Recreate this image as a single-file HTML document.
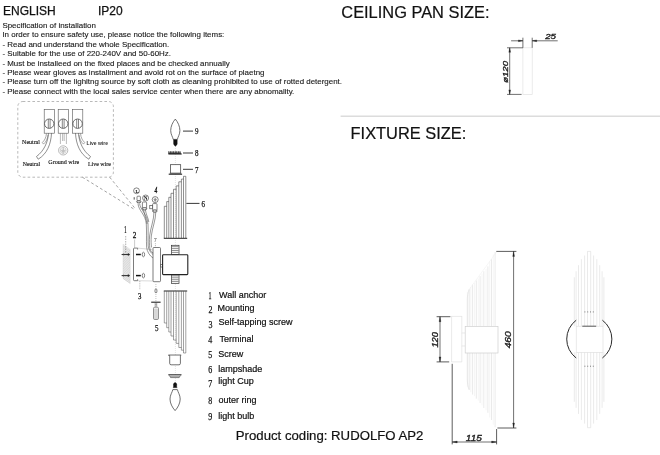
<!DOCTYPE html>
<html><head><meta charset="utf-8">
<style>
html,body{margin:0;padding:0;background:#fff;}
body{will-change:transform;width:660px;height:455px;position:relative;overflow:hidden;font-family:"Liberation Sans",sans-serif;color:#111;}
.t{position:absolute;white-space:nowrap;line-height:1;}
.s{font-size:7.95px;left:2.4px;color:#1a1a1a;-webkit-text-stroke:0.12px #1a1a1a;}
.h{font-size:12px;-webkit-text-stroke:0.25px #111;}
.big{font-size:16.4px;color:#111;-webkit-text-stroke:0.2px #111;}
.l{font-size:9px;color:#111;-webkit-text-stroke:0.2px #111;}
svg{position:absolute;left:0;top:0;}
</style></head><body>
<div class="t h" style="left:3px;top:5px;">ENGLISH</div>
<div class="t h" style="left:98px;top:5px;">IP20</div>
<div class="t s" style="top:21.7px;">Specification of installation</div>
<div class="t s" style="top:30.8px;">In order to ensure safety use, please notice the following items:</div>
<div class="t s" style="top:40.8px;">- Read and understand the whole Specification.</div>
<div class="t s" style="top:50.0px;">- Suitable for the use of 220-240V and 50-60Hz.</div>
<div class="t s" style="top:59.6px;">- Must be installeed on the fixed places and be checked annually</div>
<div class="t s" style="top:68.7px;">- Please wear gloves as installment and avoid rot on the surface of plaetng</div>
<div class="t s" style="top:78.1px;">- Please turn off the lighitng source by soft cloth as cleaning prohibited to use of rotted detergent.</div>
<div class="t s" style="top:87.7px;">- Please connect with the local sales service center when there are any abnomality.</div>
<div class="t big" style="left:341.3px;top:4px;">CEILING PAN SIZE:</div>
<div class="t big" style="left:350.6px;top:124.6px;">FIXTURE SIZE:</div>
<div class="t" style="left:235.8px;top:428.8px;font-size:13.2px;-webkit-text-stroke:0.2px #111;">Product coding: RUDOLFO AP2</div>
<div class="t l" style="left:219.0px;top:290.5px;">Wall anchor</div>
<div class="t l" style="left:217.6px;top:303.7px;">Mounting</div>
<div class="t l" style="left:218.4px;top:318.3px;">Self-tapping screw</div>
<div class="t l" style="left:219.6px;top:334.7px;">Terminal</div>
<div class="t l" style="left:218.3px;top:349.5px;">Screw</div>
<div class="t l" style="left:218.2px;top:365.1px;">lampshade</div>
<div class="t l" style="left:218.2px;top:377.0px;">light Cup</div>
<div class="t l" style="left:218.6px;top:395.5px;">outer ring</div>
<div class="t l" style="left:218.2px;top:411.8px;">light bulb</div>
<svg width="660" height="455" viewBox="0 0 660 455" fill="none">
<g id="wirebox">
<rect x="17.8" y="101.5" width="95.6" height="75.7" stroke="#8a8a8a" stroke-width="0.6" fill="none" rx="5" stroke-dasharray="2.6 2.2"/>
<line x1="109.7" y1="177.2" x2="135.4" y2="208.8" stroke="#8a8a8a" stroke-width="0.8" stroke-dasharray="2.8 2.4"/>
<line x1="82.4" y1="177.2" x2="135.4" y2="210" stroke="#8a8a8a" stroke-width="0.8" stroke-dasharray="2.8 2.4"/>
<rect x="44.2" y="109.3" width="10.2" height="23.9" stroke="#555" stroke-width="0.6" fill="none" rx="0"/>
<circle cx="49.2" cy="123.7" r="4.7" stroke="#333" stroke-width="0.7" fill="#fff"/>
<line x1="48.300000000000004" y1="119.3" x2="48.300000000000004" y2="128.1" stroke="#333" stroke-width="0.6" />
<line x1="50.1" y1="119.3" x2="50.1" y2="128.1" stroke="#333" stroke-width="0.6" />
<rect x="58.2" y="109.3" width="10.2" height="23.9" stroke="#555" stroke-width="0.6" fill="none" rx="0"/>
<circle cx="63.2" cy="123.7" r="4.7" stroke="#333" stroke-width="0.7" fill="#fff"/>
<line x1="62.300000000000004" y1="119.3" x2="62.300000000000004" y2="128.1" stroke="#333" stroke-width="0.6" />
<line x1="64.10000000000001" y1="119.3" x2="64.10000000000001" y2="128.1" stroke="#333" stroke-width="0.6" />
<rect x="72.6" y="109.3" width="10.2" height="23.9" stroke="#555" stroke-width="0.6" fill="none" rx="0"/>
<circle cx="77.6" cy="123.7" r="4.7" stroke="#333" stroke-width="0.7" fill="#fff"/>
<line x1="76.69999999999999" y1="119.3" x2="76.69999999999999" y2="128.1" stroke="#333" stroke-width="0.6" />
<line x1="78.5" y1="119.3" x2="78.5" y2="128.1" stroke="#333" stroke-width="0.6" />
<path d="M60.4 133.2V144 M66.4 133.2V144 M62.6 133.2V141 M64.2 133.2V141" stroke="#777" stroke-width="0.5" fill="none" />
<path d="M48.5 133.2C48 142 44 151 36.5 156.5 M51.5 133.2C51 144 47 154 38.2 159.2 M36.5 156.5L38.2 159.2" stroke="#444" stroke-width="0.6" fill="none" />
<path d="M46.5 133.5C46 138 44.5 140.5 42.3 142.5 M42.3 142.5l1.2 1.6 M43.5 144.1C46 142 47.5 139 48 135" stroke="#555" stroke-width="0.5" fill="none" />
<path d="M78.5 133.2C79 142 83 151 90.5 156.5 M75.5 133.2C76 144 80 154 88.8 159.2 M90.5 156.5L88.8 159.2" stroke="#444" stroke-width="0.6" fill="none" />
<path d="M80.5 133.5C81 138 82.5 140.5 84.7 142.5 M84.7 142.5l-1.2 1.6 M83.5 144.1C81 142 79.5 139 79 135" stroke="#555" stroke-width="0.5" fill="none" />
<circle cx="63.2" cy="150.4" r="4.6" stroke="#888" stroke-width="0.6" fill="none"/>
<circle cx="63.2" cy="150.4" r="3.0" stroke="#aaa" stroke-width="0.5" fill="none"/>
<path d="M63.2 147.5V150.3 M60.8 150.3H65.6 M61.6 151.6H64.8 M62.4 152.9H64" stroke="#777" stroke-width="0.5" fill="none" />
<text x="22.1" y="144.4" font-size="7.0" font-family="Liberation Serif, serif" fill="#111" stroke="#111" stroke-width="0.15" textLength="17.8" lengthAdjust="spacingAndGlyphs">Neutral</text>
<text x="22.7" y="166.3" font-size="7.0" font-family="Liberation Serif, serif" fill="#111" stroke="#111" stroke-width="0.15" textLength="17.4" lengthAdjust="spacingAndGlyphs">Neutral</text>
<text x="48.3" y="164.1" font-size="7.0" font-family="Liberation Serif, serif" fill="#111" stroke="#111" stroke-width="0.15" textLength="30.8" lengthAdjust="spacingAndGlyphs">Ground wire</text>
<text x="88" y="166.3" font-size="7.0" font-family="Liberation Serif, serif" fill="#111" stroke="#111" stroke-width="0.15" textLength="22.8" lengthAdjust="spacingAndGlyphs">Live wire</text>
<text x="86.6" y="144.9" font-size="5.4" font-family="Liberation Sans, sans-serif" fill="#333" stroke="none" font-weight="bold" textLength="21.4" lengthAdjust="spacingAndGlyphs">Live wire</text>
</g>
<g id="exploded">
<line x1="175.4" y1="146" x2="175.4" y2="383" stroke="#bbb" stroke-width="0.5" stroke-dasharray="0.8 1.2"/>
<path d="M175.3 119.1C172.7 122 170.7 126.5 170.7 130.5C170.7 134.5 172.8 137 173.2 139.4H177.4C177.8 137 179.9 134.5 179.9 130.5C179.9 126.5 177.9 122 175.3 119.1Z" stroke="#333" stroke-width="0.7" fill="#fff" />
<path d="M173.6 139.8H177.2V143.8Q177.2 145 175.4 146.2Q173.6 145 173.6 143.8Z" stroke="#111" stroke-width="0.4" fill="#111" />
<line x1="183" y1="131.1" x2="193" y2="131.1" stroke="#222" stroke-width="0.9" />
<text x="194.9" y="134.0" font-size="8.4" font-family="Liberation Serif, serif" fill="#111" stroke="#111" stroke-width="0.25" textLength="3.5" lengthAdjust="spacingAndGlyphs">9</text>
<path d="M168.6 154L168.8 151.3L169.6 154L170.4 151.3L171.2 154L172.0 151.3L172.8 154L173.6 151.3L174.4 154L175.2 151.3L176.0 154L176.8 151.3L177.6 154L178.4 151.3L179.2 154L180.0 151.3L180.8 154L181.4 154Z" stroke="#222" stroke-width="0.5" fill="#444" />
<line x1="168.4" y1="154" x2="181.6" y2="154" stroke="#222" stroke-width="0.8" />
<line x1="183" y1="153" x2="193" y2="153" stroke="#222" stroke-width="0.9" />
<text x="194.9" y="156.3" font-size="8.4" font-family="Liberation Serif, serif" fill="#111" stroke="#111" stroke-width="0.25" textLength="3.5" lengthAdjust="spacingAndGlyphs">8</text>
<rect x="170.5" y="164.7" width="10.2" height="8.5" stroke="#333" stroke-width="0.7" fill="#fff" rx="0"/>
<path d="M168.7 174.2H182.1" stroke="#222" stroke-width="1.1" fill="none" />
<path d="M169.6 173.2H181.4" stroke="#555" stroke-width="0.5" fill="none" />
<line x1="183" y1="169.3" x2="193" y2="169.3" stroke="#222" stroke-width="0.9" />
<text x="194.9" y="172.7" font-size="8.4" font-family="Liberation Serif, serif" fill="#111" stroke="#111" stroke-width="0.25" textLength="3.5" lengthAdjust="spacingAndGlyphs">7</text>
<path d="M164.3 238V206.3M166.7 238V201.6M168.8 238V197.3M171.0 238V193.3M173.5 238V189.3M176.2 238V185.9M178.8 238V181.8M181.4 238V179.1M183.5 238V176.3M185.8 238V176.3M164.3 206.3H166.7M166.7 201.6H168.8M168.8 197.3H171.0M171.0 193.3H173.5M173.5 189.3H176.2M176.2 185.9H178.8M178.8 181.8H181.4M181.4 179.1H183.5M183.5 176.3H185.8" stroke="#444" stroke-width="0.6" fill="none" />
<line x1="163.8" y1="238.3" x2="187.2" y2="238.3" stroke="#222" stroke-width="1.0" />
<line x1="186.4" y1="203.4" x2="199.5" y2="203.4" stroke="#222" stroke-width="0.9" />
<text x="201.6" y="207.2" font-size="8.4" font-family="Liberation Serif, serif" fill="#111" stroke="#111" stroke-width="0.25" textLength="3.5" lengthAdjust="spacingAndGlyphs">6</text>
<rect x="171.4" y="245.3" width="7.6" height="9.099999999999994" stroke="#333" stroke-width="0.7" fill="#fff" rx="0"/>
<line x1="171.8" y1="246.70000000000002" x2="178.6" y2="246.70000000000002" stroke="#444" stroke-width="0.6" />
<line x1="171.8" y1="248.60000000000002" x2="178.6" y2="248.60000000000002" stroke="#444" stroke-width="0.6" />
<line x1="171.8" y1="250.50000000000003" x2="178.6" y2="250.50000000000003" stroke="#444" stroke-width="0.6" />
<line x1="171.8" y1="252.40000000000003" x2="178.6" y2="252.40000000000003" stroke="#444" stroke-width="0.6" />
<rect x="171.4" y="274.5" width="7.6" height="9.100000000000023" stroke="#333" stroke-width="0.7" fill="#fff" rx="0"/>
<line x1="171.8" y1="275.9" x2="178.6" y2="275.9" stroke="#444" stroke-width="0.6" />
<line x1="171.8" y1="277.79999999999995" x2="178.6" y2="277.79999999999995" stroke="#444" stroke-width="0.6" />
<line x1="171.8" y1="279.69999999999993" x2="178.6" y2="279.69999999999993" stroke="#444" stroke-width="0.6" />
<line x1="171.8" y1="281.5999999999999" x2="178.6" y2="281.5999999999999" stroke="#444" stroke-width="0.6" />
<rect x="162.6" y="254.7" width="25.2" height="19.9" stroke="#222" stroke-width="1.1" fill="#fff" rx="0.8"/>
<rect x="160.6" y="264.4" width="1.8" height="2.6" stroke="#333" stroke-width="0.6" fill="none" rx="0"/>
<rect x="153.0" y="247.5" width="7.5" height="34.2" stroke="#444" stroke-width="0.7" fill="#fff" rx="0.9"/>
<line x1="155.4" y1="243.2" x2="155.4" y2="247.2" stroke="#777" stroke-width="0.5" stroke-dasharray="1 0.8"/>
<text x="153.7" y="241.6" font-size="5.5" font-family="Liberation Sans, sans-serif" fill="#555" stroke="none" >7</text>
<line x1="137.6" y1="248.1" x2="153.0" y2="249.6" stroke="#b5b5b5" stroke-width="0.5" />
<line x1="137.6" y1="280.7" x2="153.0" y2="281.0" stroke="#b5b5b5" stroke-width="0.5" />
<path d="M137.6 248.1H134.4Q133.5 248.1 133.5 249V279.8Q133.5 280.7 134.4 280.7H137.6" stroke="#444" stroke-width="0.7" fill="none" />
<path d="M137.6 248.1V249.6 M137.6 280.7V279.2" stroke="#444" stroke-width="0.6" fill="none" />
<line x1="134.6" y1="239.5" x2="134.6" y2="248" stroke="#999" stroke-width="0.5" />
<text x="132.7" y="238.2" font-size="8.8" font-family="Liberation Serif, serif" fill="#111" stroke="#111" stroke-width="0.3" textLength="3.6" lengthAdjust="spacingAndGlyphs">2</text>
<line x1="136.0" y1="254.5" x2="140.8" y2="254.5" stroke="#111" stroke-width="1.5" />
<ellipse cx="143.4" cy="254.5" rx="1.2" ry="2.3" stroke="#333" stroke-width="0.6" fill="#fff"/>
<line x1="136.0" y1="275.6" x2="140.8" y2="275.6" stroke="#111" stroke-width="1.5" />
<ellipse cx="143.4" cy="275.6" rx="1.2" ry="2.3" stroke="#333" stroke-width="0.6" fill="#fff"/>
<line x1="139.8" y1="281" x2="139.8" y2="290" stroke="#777" stroke-width="0.5" stroke-dasharray="1.2 1"/>
<text x="138.1" y="298.6" font-size="8.8" font-family="Liberation Serif, serif" fill="#111" stroke="#111" stroke-width="0.25" textLength="3.4" lengthAdjust="spacingAndGlyphs">3</text>
<g stroke="#aaa" stroke-width="0.5">
<path d="M123 244.2L130.2 249.4V283.4L123 278.4Z" stroke="#d0d0d0" stroke-width="0.4" fill="#ececec" />
</g>
<line x1="123" y1="246.0" x2="130.2" y2="251.0" stroke="#c4c4c4" stroke-width="0.5" />
<line x1="123" y1="247.7" x2="130.2" y2="252.7" stroke="#c4c4c4" stroke-width="0.5" />
<line x1="123" y1="249.39999999999998" x2="130.2" y2="254.39999999999998" stroke="#c4c4c4" stroke-width="0.5" />
<line x1="123" y1="251.09999999999997" x2="130.2" y2="256.09999999999997" stroke="#c4c4c4" stroke-width="0.5" />
<line x1="123" y1="252.79999999999995" x2="130.2" y2="257.79999999999995" stroke="#c4c4c4" stroke-width="0.5" />
<line x1="123" y1="254.49999999999994" x2="130.2" y2="259.49999999999994" stroke="#c4c4c4" stroke-width="0.5" />
<line x1="123" y1="256.19999999999993" x2="130.2" y2="261.19999999999993" stroke="#c4c4c4" stroke-width="0.5" />
<line x1="123" y1="257.8999999999999" x2="130.2" y2="262.8999999999999" stroke="#c4c4c4" stroke-width="0.5" />
<line x1="123" y1="259.5999999999999" x2="130.2" y2="264.5999999999999" stroke="#c4c4c4" stroke-width="0.5" />
<line x1="123" y1="261.2999999999999" x2="130.2" y2="266.2999999999999" stroke="#c4c4c4" stroke-width="0.5" />
<line x1="123" y1="262.9999999999999" x2="130.2" y2="267.9999999999999" stroke="#c4c4c4" stroke-width="0.5" />
<line x1="123" y1="264.6999999999999" x2="130.2" y2="269.6999999999999" stroke="#c4c4c4" stroke-width="0.5" />
<line x1="123" y1="266.39999999999986" x2="130.2" y2="271.39999999999986" stroke="#c4c4c4" stroke-width="0.5" />
<line x1="123" y1="268.09999999999985" x2="130.2" y2="273.09999999999985" stroke="#c4c4c4" stroke-width="0.5" />
<line x1="123" y1="269.79999999999984" x2="130.2" y2="274.79999999999984" stroke="#c4c4c4" stroke-width="0.5" />
<line x1="123" y1="271.49999999999983" x2="130.2" y2="276.49999999999983" stroke="#c4c4c4" stroke-width="0.5" />
<line x1="123" y1="273.1999999999998" x2="130.2" y2="278.1999999999998" stroke="#c4c4c4" stroke-width="0.5" />
<line x1="123" y1="274.8999999999998" x2="130.2" y2="279.8999999999998" stroke="#c4c4c4" stroke-width="0.5" />
<line x1="123" y1="276.5999999999998" x2="130.2" y2="281.5999999999998" stroke="#c4c4c4" stroke-width="0.5" />
<line x1="123" y1="278.2999999999998" x2="130.2" y2="283.2999999999998" stroke="#c4c4c4" stroke-width="0.5" />
<line x1="121.6" y1="254.5" x2="129.8" y2="254.5" stroke="#333" stroke-width="1.1" />
<line x1="128.3" y1="253.3" x2="128.3" y2="255.7" stroke="#222" stroke-width="1.0" />
<line x1="123.5" y1="253.5" x2="123.5" y2="255.5" stroke="#444" stroke-width="0.6" />
<line x1="121.6" y1="275.6" x2="129.8" y2="275.6" stroke="#333" stroke-width="1.1" />
<line x1="128.3" y1="274.40000000000003" x2="128.3" y2="276.8" stroke="#222" stroke-width="1.0" />
<line x1="123.5" y1="274.6" x2="123.5" y2="276.6" stroke="#444" stroke-width="0.6" />
<line x1="125.7" y1="236" x2="125.7" y2="253.5" stroke="#666" stroke-width="0.5" stroke-dasharray="1.5 1"/>
<text x="124.1" y="233.4" font-size="9.6" font-family="Liberation Serif, serif" fill="#111" stroke="#111" stroke-width="0.15" textLength="2.8" lengthAdjust="spacingAndGlyphs">1</text>
<path d="M138.0 203.5C138.5 211 145.5 214 146.3 224C146.8 232 146.2 240 146.6 247 C147 252 150 256 153 258" stroke="#444" stroke-width="0.55" fill="none" />
<path d="M139.6 203.5C140.2 210 147.3 213.5 148 224C148.4 232 147.8 240 148.2 246 C148.6 250 151 253 153 254.5" stroke="#444" stroke-width="0.55" fill="none" />
<path d="M143.6 209.8C144 214 146.5 219 147 224 M145.4 209.8C145.8 214 148.3 218 148.8 222" stroke="#444" stroke-width="0.55" fill="none" />
<path d="M154.0 211.8C154 220 150.5 228 149.6 236C149.2 241 149.4 245 149.8 248C150.3 251 152 252.5 153.1 253 M155.8 211.8C155.8 220 152.2 228 151.3 236C150.9 241 151.2 244 151.5 247.4" stroke="#444" stroke-width="0.55" fill="none" />
<circle cx="136.5" cy="190.8" r="2.9" stroke="#333" stroke-width="0.6" fill="none"/>
<text x="135.4" y="192.5" font-size="5.0" font-family="Liberation Serif, serif" fill="#111" stroke="#111" stroke-width="0.2" >L</text>
<circle cx="145.6" cy="198.0" r="3.0" stroke="#333" stroke-width="0.6" fill="none"/>
<text x="143.8" y="200.0" font-size="5.2" font-family="Liberation Serif, serif" fill="#111" stroke="none" font-weight="bold">N</text>
<circle cx="155.2" cy="199.6" r="3.0" stroke="#333" stroke-width="0.6" fill="none"/>
<path d="M155.2 197.8V199.4 M153.6 199.4H156.8 M154.2 200.5H156.2 M154.8 201.5H155.6" stroke="#222" stroke-width="0.5" fill="none" />
<rect x="137.0" y="196.2" width="3.4" height="4.6" stroke="#333" stroke-width="0.6" fill="#fff" rx="0.8"/>
<ellipse cx="138.8" cy="201.8" rx="2.2" ry="1.0" stroke="#222" stroke-width="0.7" fill="#fff"/>
<line x1="134.2" y1="197.2" x2="134.2" y2="199.6" stroke="#222" stroke-width="0.8" />
<rect x="142.4" y="202.0" width="4.2" height="6.2" stroke="#333" stroke-width="0.6" fill="#fff" rx="0.8"/>
<ellipse cx="144.5" cy="208.8" rx="2.3" ry="1.1" stroke="#222" stroke-width="0.7" fill="#fff"/>
<rect x="152.6" y="203.6" width="4.4" height="6.8" stroke="#333" stroke-width="0.6" fill="#fff" rx="0.8"/>
<ellipse cx="154.8" cy="211" rx="2.4" ry="1.1" stroke="#222" stroke-width="0.7" fill="#fff"/>
<rect x="149.8" y="205.6" width="2.8" height="3.2" stroke="#333" stroke-width="0.6" fill="#fff" rx="0"/>
<text x="154.4" y="192.5" font-size="7.2" font-family="Liberation Serif, serif" fill="#111" stroke="#111" stroke-width="0.3" textLength="2.8" lengthAdjust="spacingAndGlyphs" font-style="italic">4</text>
<line x1="155.9" y1="284" x2="155.9" y2="320" stroke="#888" stroke-width="0.5" stroke-dasharray="1 1"/>
<rect x="155.0" y="289.2" width="1.9" height="3.4" stroke="#333" stroke-width="0.6" fill="#fff" rx="0.6"/>
<line x1="151.2" y1="302.2" x2="160.6" y2="302.2" stroke="#222" stroke-width="1.1" />
<path d="M155.2 303V306.4 M156.7 303V306.4" stroke="#444" stroke-width="0.5" fill="none" />
<rect x="153.5" y="307.2" width="5.0" height="12.3" stroke="#444" stroke-width="0.6" fill="#fff" rx="1.2"/>
<path d="M154.8 308.5V319 M156 308.5V319 M157.2 308.5V319" stroke="#888" stroke-width="0.45" fill="none" />
<text x="154.9" y="330.9" font-size="8.8" font-family="Liberation Serif, serif" fill="#111" stroke="#111" stroke-width="0.25" textLength="3.5" lengthAdjust="spacingAndGlyphs">5</text>
<line x1="163.8" y1="291.0" x2="187.2" y2="291.0" stroke="#222" stroke-width="1.0" />
<path d="M164.3 291V323.0M166.7 291V327.7M168.8 291V332.0M171.0 291V336.0M173.5 291V340.0M176.2 291V343.4M178.8 291V347.5M181.4 291V350.2M183.5 291V353.0M185.8 291V353.0M164.3 323.0H166.7M166.7 327.7H168.8M168.8 332.0H171.0M171.0 336.0H173.5M173.5 340.0H176.2M176.2 343.4H178.8M178.8 347.5H181.4M181.4 350.2H183.5M183.5 353.0H185.8" stroke="#555" stroke-width="0.55" fill="none" />
<path d="M168.3 355.2H181.2" stroke="#222" stroke-width="1.0" fill="none" />
<path d="M169.7 355.6V363.4Q169.7 364.8 171.1 364.8H179.0Q180.4 364.8 180.4 363.4V355.6" stroke="#333" stroke-width="0.7" fill="#fff" />
<line x1="168.3" y1="374.8" x2="181.5" y2="374.8" stroke="#222" stroke-width="1.0" />
<path d="M169.3 375.3L170.6 377.6H179.2L180.5 375.3" stroke="#444" stroke-width="0.6" fill="#aaa" />
<path d="M175.1 410.6C172.2 407.5 170 403 170 399C170 395 172.4 392 172.8 389.6H177.4C177.8 392 180.2 395 180.2 399C180.2 403 178 407.5 175.1 410.6Z" stroke="#333" stroke-width="0.7" fill="#fff" />
<path d="M173.5 387.4V384.2Q173.5 383 175.1 382.4Q176.7 383 176.7 384.2V387.4Z" stroke="#111" stroke-width="0.4" fill="#111" />
<path d="M172.9 387.6H177.3" stroke="#333" stroke-width="0.6" fill="none" />
</g>
<text x="208.6" y="299.2" font-size="10.4" font-family="Liberation Serif, serif" fill="#111" stroke="#111" stroke-width="0.25" textLength="3.0" lengthAdjust="spacingAndGlyphs">1</text>
<text x="208.5" y="313.0" font-size="10.4" font-family="Liberation Serif, serif" fill="#111" stroke="#111" stroke-width="0.25" textLength="4.0" lengthAdjust="spacingAndGlyphs">2</text>
<text x="208.5" y="327.5" font-size="10.4" font-family="Liberation Serif, serif" fill="#111" stroke="#111" stroke-width="0.25" textLength="4.0" lengthAdjust="spacingAndGlyphs">3</text>
<text x="208.3" y="342.5" font-size="10.4" font-family="Liberation Serif, serif" fill="#111" stroke="#111" stroke-width="0.25" textLength="4.0" lengthAdjust="spacingAndGlyphs">4</text>
<text x="208.3" y="357.7" font-size="10.4" font-family="Liberation Serif, serif" fill="#111" stroke="#111" stroke-width="0.25" textLength="4.0" lengthAdjust="spacingAndGlyphs">5</text>
<text x="208.3" y="373.1" font-size="10.4" font-family="Liberation Serif, serif" fill="#111" stroke="#111" stroke-width="0.25" textLength="4.0" lengthAdjust="spacingAndGlyphs">6</text>
<text x="208.3" y="387.2" font-size="10.4" font-family="Liberation Serif, serif" fill="#111" stroke="#111" stroke-width="0.25" textLength="4.0" lengthAdjust="spacingAndGlyphs">7</text>
<text x="208.3" y="403.5" font-size="10.4" font-family="Liberation Serif, serif" fill="#111" stroke="#111" stroke-width="0.25" textLength="4.0" lengthAdjust="spacingAndGlyphs">8</text>
<text x="208.3" y="419.7" font-size="10.4" font-family="Liberation Serif, serif" fill="#111" stroke="#111" stroke-width="0.25" textLength="4.0" lengthAdjust="spacingAndGlyphs">9</text>
<g id="pan">
<rect x="522.9" y="47.8" width="9.3" height="46.6" stroke="#e2e2e2" stroke-width="0.7" fill="none" rx="0"/>
<line x1="522.9" y1="37.7" x2="522.9" y2="47.8" stroke="#333" stroke-width="0.7" />
<line x1="532.2" y1="37.7" x2="532.2" y2="47.8" stroke="#333" stroke-width="0.7" />
<line x1="511.1" y1="40.8" x2="522.9" y2="40.8" stroke="#333" stroke-width="0.7" />
<line x1="532.2" y1="40.8" x2="557.7" y2="40.8" stroke="#333" stroke-width="0.7" />
<path d="M522.9 40.8L518.4 39.9V41.7Z M532.2 40.8L536.7 39.9V41.7Z" stroke="#222" stroke-width="0.3" fill="#222" />
<line x1="507" y1="47.8" x2="522.9" y2="47.8" stroke="#333" stroke-width="0.7" />
<line x1="507" y1="94.4" x2="521.6" y2="94.4" stroke="#333" stroke-width="0.7" />
<line x1="509.7" y1="47.8" x2="509.7" y2="94.4" stroke="#333" stroke-width="0.7" />
<path d="M509.7 47.8L508.8 52.3H510.6Z M509.7 94.4L508.8 89.9H510.6Z" stroke="#222" stroke-width="0.3" fill="#222" />
<text x="545.2" y="39.0" font-size="7.6" font-family="Liberation Sans, sans-serif" fill="#222" stroke="#222" stroke-width="0.35" font-style="italic" textLength="10.8" lengthAdjust="spacingAndGlyphs">25</text>
<g transform="translate(507.6,82.8) rotate(-90)">
<text x="0" y="0.0" font-size="7.6" font-family="Liberation Sans, sans-serif" fill="#222" stroke="#222" stroke-width="0.35" font-style="italic" textLength="21.8" lengthAdjust="spacingAndGlyphs">ø120</text>
</g>
</g>
<line x1="340.6" y1="116.3" x2="660" y2="116.3" stroke="#dcdcdc" stroke-width="1.4" />
<g id="side">
<line x1="451.6" y1="316" x2="451.6" y2="362" stroke="#dbdbdb" stroke-width="0.6" />
<line x1="461.8" y1="316" x2="461.8" y2="362" stroke="#dbdbdb" stroke-width="0.6" />
<line x1="451.6" y1="316.4" x2="461.8" y2="316.4" stroke="#dbdbdb" stroke-width="0.6" />
<line x1="451.6" y1="361.9" x2="461.8" y2="361.9" stroke="#dbdbdb" stroke-width="0.6" />
<line x1="461.8" y1="333" x2="465" y2="333" stroke="#dbdbdb" stroke-width="0.6" />
<line x1="461.8" y1="346" x2="465" y2="346" stroke="#dbdbdb" stroke-width="0.6" />
<line x1="495.1" y1="252" x2="495.1" y2="326.4" stroke="#dbdbdb" stroke-width="0.6" />
<line x1="493.3" y1="254.5" x2="493.3" y2="326.4" stroke="#ececec" stroke-width="0.5" />
<line x1="491.5" y1="259.2" x2="491.5" y2="326.4" stroke="#dbdbdb" stroke-width="0.6" />
<line x1="489.7" y1="261.7" x2="489.7" y2="326.4" stroke="#ececec" stroke-width="0.5" />
<line x1="487.9" y1="266.4" x2="487.9" y2="326.4" stroke="#dbdbdb" stroke-width="0.6" />
<line x1="486.09999999999997" y1="268.9" x2="486.09999999999997" y2="326.4" stroke="#ececec" stroke-width="0.5" />
<line x1="483.8" y1="271.3" x2="483.8" y2="326.4" stroke="#dbdbdb" stroke-width="0.6" />
<line x1="482.0" y1="273.8" x2="482.0" y2="326.4" stroke="#ececec" stroke-width="0.5" />
<line x1="480.1" y1="276.1" x2="480.1" y2="326.4" stroke="#dbdbdb" stroke-width="0.6" />
<line x1="478.3" y1="278.6" x2="478.3" y2="326.4" stroke="#ececec" stroke-width="0.5" />
<line x1="476.3" y1="280.5" x2="476.3" y2="326.4" stroke="#dbdbdb" stroke-width="0.6" />
<line x1="474.5" y1="283.0" x2="474.5" y2="326.4" stroke="#ececec" stroke-width="0.5" />
<line x1="472.6" y1="284.6" x2="472.6" y2="326.4" stroke="#dbdbdb" stroke-width="0.6" />
<line x1="470.8" y1="287.1" x2="470.8" y2="326.4" stroke="#ececec" stroke-width="0.5" />
<line x1="469.2" y1="289.4" x2="469.2" y2="326.4" stroke="#dbdbdb" stroke-width="0.6" />
<line x1="467.4" y1="291.9" x2="467.4" y2="326.4" stroke="#ececec" stroke-width="0.5" />
<path d="M467.3 326.4V300C467.3 296 468 292 469.2 289.4" stroke="#dbdbdb" stroke-width="0.6" fill="none" />
<path d="M496.6 252L469.2 289.4" stroke="#ececec" stroke-width="0.5" fill="none" />
<line x1="495.1" y1="353" x2="495.1" y2="427.2" stroke="#dbdbdb" stroke-width="0.6" />
<line x1="493.3" y1="353" x2="493.3" y2="424.7" stroke="#ececec" stroke-width="0.5" />
<line x1="491.5" y1="353" x2="491.5" y2="420" stroke="#dbdbdb" stroke-width="0.6" />
<line x1="489.7" y1="353" x2="489.7" y2="417.5" stroke="#ececec" stroke-width="0.5" />
<line x1="487.9" y1="353" x2="487.9" y2="412.8" stroke="#dbdbdb" stroke-width="0.6" />
<line x1="486.09999999999997" y1="353" x2="486.09999999999997" y2="410.3" stroke="#ececec" stroke-width="0.5" />
<line x1="483.8" y1="353" x2="483.8" y2="407.9" stroke="#dbdbdb" stroke-width="0.6" />
<line x1="482.0" y1="353" x2="482.0" y2="405.4" stroke="#ececec" stroke-width="0.5" />
<line x1="480.1" y1="353" x2="480.1" y2="403.1" stroke="#dbdbdb" stroke-width="0.6" />
<line x1="478.3" y1="353" x2="478.3" y2="400.6" stroke="#ececec" stroke-width="0.5" />
<line x1="476.3" y1="353" x2="476.3" y2="398.7" stroke="#dbdbdb" stroke-width="0.6" />
<line x1="474.5" y1="353" x2="474.5" y2="396.2" stroke="#ececec" stroke-width="0.5" />
<line x1="472.6" y1="353" x2="472.6" y2="394.6" stroke="#dbdbdb" stroke-width="0.6" />
<line x1="470.8" y1="353" x2="470.8" y2="392.1" stroke="#ececec" stroke-width="0.5" />
<line x1="469.2" y1="353" x2="469.2" y2="389.8" stroke="#dbdbdb" stroke-width="0.6" />
<line x1="467.4" y1="353" x2="467.4" y2="387.3" stroke="#ececec" stroke-width="0.5" />
<path d="M467.3 353V379C467.3 383 468 387 469.2 389.8" stroke="#dbdbdb" stroke-width="0.6" fill="none" />
<rect x="465.2" y="326.4" width="32.8" height="26.6" stroke="#cfcfcf" stroke-width="0.7" fill="#fff" rx="0"/>
<line x1="496.3" y1="251.4" x2="516.4" y2="251.4" stroke="#333" stroke-width="0.8" />
<line x1="497.4" y1="428" x2="516.4" y2="428" stroke="#333" stroke-width="0.8" />
<line x1="513.6" y1="251.4" x2="513.6" y2="428" stroke="#333" stroke-width="0.7" />
<path d="M513.6 251.4L512.7 256.4H514.5Z M513.6 428L512.7 423H514.5Z" stroke="#222" stroke-width="0.3" fill="#222" />
<g transform="translate(511.3,348.3) rotate(-90)">
<text x="0" y="0.0" font-size="8.2" font-family="Liberation Sans, sans-serif" fill="#222" stroke="#222" stroke-width="0.35" font-style="italic" textLength="17" lengthAdjust="spacingAndGlyphs">460</text>
</g>
<line x1="436.6" y1="316.7" x2="450.4" y2="316.7" stroke="#333" stroke-width="0.8" />
<line x1="436.6" y1="361.9" x2="449.2" y2="361.9" stroke="#333" stroke-width="0.8" />
<line x1="440" y1="316.7" x2="440" y2="361.9" stroke="#333" stroke-width="0.7" />
<path d="M440 316.7L439.1 321.7H440.9Z M440 361.9L439.1 356.9H440.9Z" stroke="#222" stroke-width="0.3" fill="#222" />
<g transform="translate(437.6,347.6) rotate(-90)">
<text x="0" y="0.0" font-size="8.2" font-family="Liberation Sans, sans-serif" fill="#222" stroke="#222" stroke-width="0.35" font-style="italic" textLength="15.6" lengthAdjust="spacingAndGlyphs">120</text>
</g>
<line x1="452.2" y1="363.8" x2="452.2" y2="444.4" stroke="#333" stroke-width="0.8" />
<line x1="496.6" y1="429" x2="496.6" y2="444.4" stroke="#333" stroke-width="0.8" />
<line x1="452.2" y1="442" x2="496.6" y2="442" stroke="#333" stroke-width="0.7" />
<path d="M452.2 442L457.2 441.1V442.9Z M496.6 442L491.6 441.1V442.9Z" stroke="#222" stroke-width="0.3" fill="#222" />
<text x="465.8" y="440.6" font-size="8.4" font-family="Liberation Sans, sans-serif" fill="#222" stroke="#222" stroke-width="0.35" font-style="italic" textLength="16" lengthAdjust="spacingAndGlyphs">115</text>
</g>
<g id="front">
<line x1="587.5" y1="251.4" x2="587.5" y2="326.2" stroke="#dbdbdb" stroke-width="0.6" />
<line x1="587.5" y1="352.3" x2="587.5" y2="427.7" stroke="#dbdbdb" stroke-width="0.6" />
<line x1="590.7" y1="251.4" x2="590.7" y2="326.2" stroke="#dbdbdb" stroke-width="0.6" />
<line x1="590.7" y1="352.3" x2="590.7" y2="427.7" stroke="#dbdbdb" stroke-width="0.6" />
<line x1="584.6" y1="255.5" x2="584.6" y2="326.2" stroke="#dbdbdb" stroke-width="0.6" />
<line x1="584.6" y1="352.3" x2="584.6" y2="423.6" stroke="#dbdbdb" stroke-width="0.6" />
<line x1="593.6" y1="255.5" x2="593.6" y2="326.2" stroke="#dbdbdb" stroke-width="0.6" />
<line x1="593.6" y1="352.3" x2="593.6" y2="423.6" stroke="#dbdbdb" stroke-width="0.6" />
<line x1="581.4" y1="259.2" x2="581.4" y2="326.2" stroke="#dbdbdb" stroke-width="0.6" />
<line x1="581.4" y1="352.3" x2="581.4" y2="419.9" stroke="#dbdbdb" stroke-width="0.6" />
<line x1="596.8000000000001" y1="259.2" x2="596.8000000000001" y2="326.2" stroke="#dbdbdb" stroke-width="0.6" />
<line x1="596.8000000000001" y1="352.3" x2="596.8000000000001" y2="419.9" stroke="#dbdbdb" stroke-width="0.6" />
<line x1="578.5" y1="265.2" x2="578.5" y2="326.2" stroke="#dbdbdb" stroke-width="0.6" />
<line x1="578.5" y1="352.3" x2="578.5" y2="413.9" stroke="#dbdbdb" stroke-width="0.6" />
<line x1="599.7" y1="265.2" x2="599.7" y2="326.2" stroke="#dbdbdb" stroke-width="0.6" />
<line x1="599.7" y1="352.3" x2="599.7" y2="413.9" stroke="#dbdbdb" stroke-width="0.6" />
<line x1="576.1" y1="271.3" x2="576.1" y2="326.2" stroke="#dbdbdb" stroke-width="0.6" />
<line x1="576.1" y1="352.3" x2="576.1" y2="407.8" stroke="#dbdbdb" stroke-width="0.6" />
<line x1="602.1" y1="271.3" x2="602.1" y2="326.2" stroke="#dbdbdb" stroke-width="0.6" />
<line x1="602.1" y1="352.3" x2="602.1" y2="407.8" stroke="#dbdbdb" stroke-width="0.6" />
<line x1="574.3000000000001" y1="277.3" x2="574.3000000000001" y2="326.2" stroke="#dbdbdb" stroke-width="0.6" />
<line x1="574.3000000000001" y1="352.3" x2="574.3000000000001" y2="401.8" stroke="#dbdbdb" stroke-width="0.6" />
<line x1="603.9" y1="277.3" x2="603.9" y2="326.2" stroke="#dbdbdb" stroke-width="0.6" />
<line x1="603.9" y1="352.3" x2="603.9" y2="401.8" stroke="#dbdbdb" stroke-width="0.6" />
<line x1="587.5" y1="251.4" x2="590.7" y2="251.4" stroke="#dbdbdb" stroke-width="0.6" />
<line x1="587.5" y1="427.7" x2="590.7" y2="427.7" stroke="#dbdbdb" stroke-width="0.6" />
<rect x="576.2" y="326.2" width="26.8" height="26.1" stroke="#dbdbdb" stroke-width="0.6" fill="#fff" rx="0"/>
<line x1="582.3" y1="326.2" x2="596.2" y2="326.2" stroke="#333" stroke-width="0.8" />
<path d="M576.2 320.2A23.6 23.6 0 0 0 576.2 358.0" stroke="#2a2a2a" stroke-width="1.0" fill="none" />
<path d="M602.4 320.2A23.6 23.6 0 0 1 602.4 358.0" stroke="#2a2a2a" stroke-width="1.0" fill="none" />
<line x1="584.9" y1="311.2" x2="584.9" y2="312.6" stroke="#666" stroke-width="0.6" />
<line x1="587.7" y1="311.2" x2="587.7" y2="312.6" stroke="#666" stroke-width="0.6" />
<line x1="590.5" y1="311.2" x2="590.5" y2="312.6" stroke="#666" stroke-width="0.6" />
<line x1="593.3000000000001" y1="311.2" x2="593.3000000000001" y2="312.6" stroke="#666" stroke-width="0.6" />
<line x1="584.9" y1="365.59999999999997" x2="584.9" y2="367.0" stroke="#666" stroke-width="0.6" />
<line x1="587.7" y1="365.59999999999997" x2="587.7" y2="367.0" stroke="#666" stroke-width="0.6" />
<line x1="590.5" y1="365.59999999999997" x2="590.5" y2="367.0" stroke="#666" stroke-width="0.6" />
<line x1="593.3000000000001" y1="365.59999999999997" x2="593.3000000000001" y2="367.0" stroke="#666" stroke-width="0.6" />
</g>
</svg>
</body></html>
